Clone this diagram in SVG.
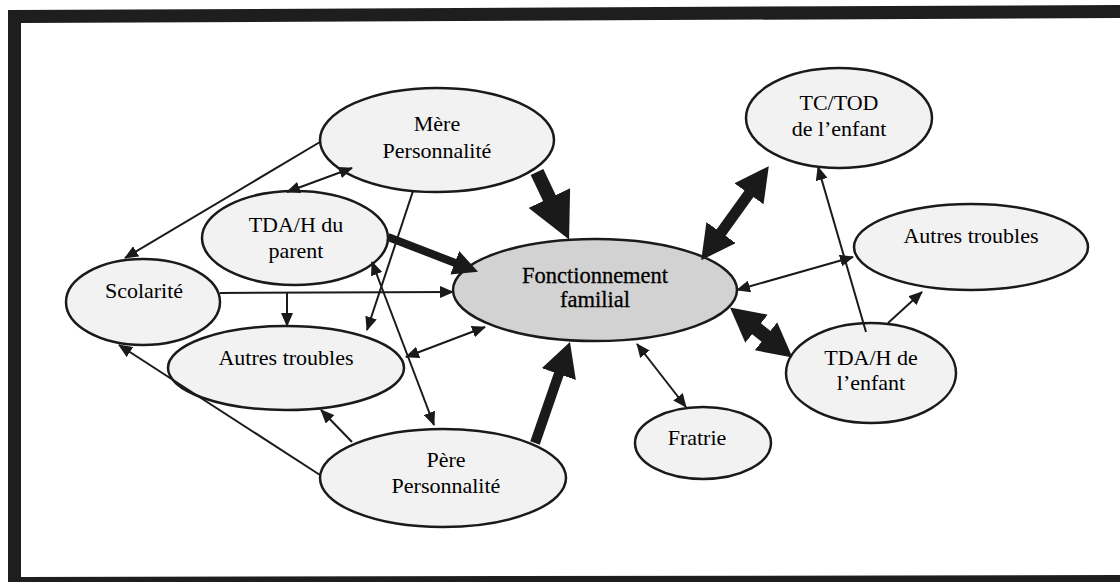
<svg xmlns="http://www.w3.org/2000/svg" width="1120" height="582" viewBox="0 0 1120 582">
<style>
.node ellipse{fill:#f2f2f2;stroke:#1a1a1a;stroke-width:2.5}
#fonc ellipse{fill:#d2d2d2}
#fonc text{font-size:22.5px;stroke:#000;stroke-width:0.3}
text{font-family:"Liberation Serif","Times New Roman",serif;font-size:22px;fill:#000;text-anchor:middle}
.thin{stroke:#1a1a1a;stroke-width:2;fill:none}
.thick{stroke:#1a1a1a;fill:none}
</style>
<defs>
<marker id="a" markerUnits="userSpaceOnUse" markerWidth="14" markerHeight="12" viewBox="0 0 14 12" refX="13" refY="6" orient="auto-start-reverse"><path d="M0,0 L14,6 L0,12 z" fill="#1a1a1a"/></marker>
<marker id="hL" markerUnits="userSpaceOnUse" markerWidth="46" markerHeight="46" viewBox="0 0 46 46" refX="2" refY="23" orient="auto-start-reverse"><path d="M0,0 L46,23 L0,46 z" fill="#1a1a1a"/></marker>
<marker id="hM" markerUnits="userSpaceOnUse" markerWidth="34" markerHeight="36" viewBox="0 0 34 36" refX="2" refY="18" orient="auto-start-reverse"><path d="M0,0 L34,18 L0,36 z" fill="#1a1a1a"/></marker>
<marker id="hS" markerUnits="userSpaceOnUse" markerWidth="25" markerHeight="25" viewBox="0 0 25 25" refX="2" refY="12.5" orient="auto-start-reverse"><path d="M0,0 L25,12.5 L0,25 z" fill="#1a1a1a"/></marker>
</defs>
<rect width="1120" height="582" fill="#ffffff"/>
<path id="frame" d="M8,10 L1120,5 L1120,18 L21,23 L21,577 L1120,575 L1120,582 L8,582 z" fill="#1e1e1e"/>

<g id="mere" class="node"><ellipse cx="437" cy="140" rx="117" ry="52"/><text x="437" y="131">Mère</text><text x="437" y="158">Personnalité</text></g>
<g id="tdah_parent" class="node"><ellipse cx="295" cy="238" rx="93" ry="47"/><text x="296" y="232">TDA/H du</text><text x="296" y="258">parent</text></g>
<g id="scolarite" class="node"><ellipse cx="143" cy="302" rx="77" ry="43"/><text x="144" y="298">Scolarité</text></g>
<g id="autres_parent" class="node"><ellipse cx="286" cy="368" rx="118" ry="42"/><text x="286" y="365">Autres troubles</text></g>
<g id="pere" class="node"><ellipse cx="443" cy="478" rx="123" ry="49"/><text x="446" y="467">Père</text><text x="446" y="493">Personnalité</text></g>
<g id="fonc" class="node"><ellipse cx="595" cy="290" rx="142" ry="51"/><text x="595" y="283">Fonctionnement</text><text x="595" y="307">familial</text></g>
<g id="tctod" class="node"><ellipse cx="839" cy="118" rx="93" ry="50"/><text x="839" y="110">TC/TOD</text><text x="839" y="136">de l’enfant</text></g>
<g id="autres_enfant" class="node"><ellipse cx="971" cy="247" rx="117" ry="43"/><text x="971" y="243">Autres troubles</text></g>
<g id="tdah_enfant" class="node"><ellipse cx="871" cy="373" rx="85" ry="50"/><text x="871" y="365">TDA/H de</text><text x="871" y="390">l’enfant</text></g>
<g id="fratrie" class="node"><ellipse cx="703" cy="443" rx="68" ry="36"/><text x="697" y="445">Fratrie</text></g>

<g id="connectors">
<line class="thin" x1="320" y1="142" x2="125" y2="258" marker-end="url(#a)"/>
<line class="thin" x1="352" y1="168" x2="287" y2="192" marker-start="url(#a)" marker-end="url(#a)"/>
<line class="thin" x1="413" y1="191" x2="367" y2="330" marker-end="url(#a)"/>
<line class="thin" x1="220" y1="293" x2="453" y2="292" marker-end="url(#a)"/>
<line class="thin" x1="287" y1="293" x2="287" y2="326" marker-end="url(#a)"/>
<line class="thin" x1="372" y1="262" x2="434" y2="425" marker-start="url(#a)" marker-end="url(#a)"/>
<line class="thin" x1="406" y1="357" x2="485" y2="327" marker-start="url(#a)" marker-end="url(#a)"/>
<line class="thin" x1="320" y1="475" x2="119" y2="345" marker-end="url(#a)"/>
<line class="thin" x1="352" y1="442" x2="321" y2="410" marker-end="url(#a)"/>
<line class="thin" x1="737" y1="290" x2="853" y2="257" marker-start="url(#a)" marker-end="url(#a)"/>
<line class="thin" x1="866" y1="332" x2="818" y2="167" marker-end="url(#a)"/>
<line class="thin" x1="888" y1="323" x2="922" y2="292" marker-end="url(#a)"/>
<line class="thin" x1="637" y1="344" x2="686" y2="407" marker-start="url(#a)" marker-end="url(#a)"/>
<line class="thick" stroke-width="14" x1="537" y1="172" x2="550.2" y2="199.8" marker-end="url(#hL)"/>
<line class="thick" stroke-width="10" x1="535" y1="443" x2="559.5" y2="372.2" marker-end="url(#hM)"/>
<line class="thick" stroke-width="8" x1="388" y1="237" x2="456.6" y2="263.5" marker-end="url(#hS)"/>
<line class="thick" stroke-width="11" x1="719.9" y1="234.2" x2="750.1" y2="192.2" marker-start="url(#hM)" marker-end="url(#hM)"/>
<line class="thick" stroke-width="14" x1="755" y1="327.5" x2="767.5" y2="337.5" marker-start="url(#hM)" marker-end="url(#hM)"/>
</g>
</svg>
